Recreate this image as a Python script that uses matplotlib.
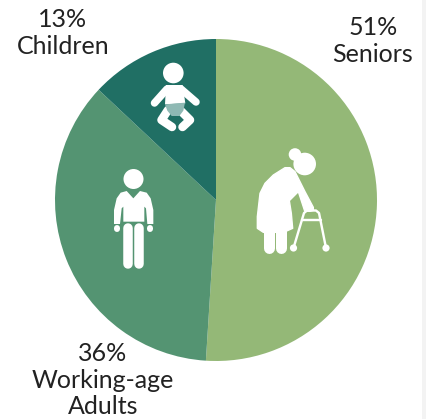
import matplotlib
matplotlib.use('Agg')
import matplotlib.pyplot as plt
from matplotlib.patches import Circle, Polygon, Rectangle

W, H = 427, 419

# Population shares
categories = ['Seniors', 'Working-age\nAdults', 'Children']
shares = [51, 36, 13]
colors = ['#94b877', '#549472', '#206f64']
label_pos = [(373, 41), (103, 380), (63, 33)]

plt.rcParams['font.family'] = ['Lato', 'DejaVu Sans']

fig = plt.figure(figsize=(W / 100, H / 100), dpi=100)
ax = fig.add_axes([0, 0, 1, 1])

# Pie, clockwise from the top
ax.pie(shares, colors=colors, startangle=90, counterclock=False,
       center=(216, H - 200), radius=161, frame=True)
ax.set_xlim(0, W)
ax.set_ylim(0, H)
ax.set_aspect('equal')
ax.axis('off')

# Grey strip at the right edge
ax.add_patch(Rectangle((422, 0), 5, H, color='#f3f3f3', lw=0))

# Labels
for cat, val, pos in zip(categories, shares, label_pos):
    ax.text(pos[0], H - pos[1], f'{val}%\n{cat}', ha='center', va='center',
            fontsize=18, color='#222222', linespacing=1.2, multialignment='center')


# Helpers for the icons, which are laid out with y pointing down
def circle(cx, cy, r, color='white'):
    ax.add_patch(Circle((cx, H - cy), r, color=color, lw=0, zorder=5))


def poly(points, color='white', edge=0):
    pts = [(x, H - y) for x, y in points]
    ax.add_patch(Polygon(pts, closed=True, facecolor=color, edgecolor=color, lw=edge,
                         joinstyle='round', zorder=5))


def stroke(xs, ys, width, color='white'):
    ax.plot(xs, [H - y for y in ys], color=color, lw=width * 0.72,
            solid_capstyle='round', solid_joinstyle='round', zorder=5)


def zoomed(points, x0, y0):
    return [(x0 + x / 3, y0 + y / 3) for x, y in points]


# Senior with walker
x0, y0 = 230, 130
circle(295, 154.5, 6.3)
circle(304.7, 164, 11.3)
poly(zoomed([(165, 113), (180, 113), (195, 125), (205, 145), (225, 185), (250, 232),
             (250, 241), (240, 244), (224, 243), (205, 185), (178, 212), (184, 250),
             (188, 295), (170, 303), (150, 307), (100, 307), (82, 295), (82, 260),
             (90, 190), (105, 160), (130, 135)], x0, y0), edge=1)
stroke([269, 269], [228, 248], 11)
stroke([281, 281], [228, 248], 11)
stroke([293.5, 304, 307, 316, 319, 326],
       [248, 213, 210.5, 210.5, 213, 248], 2.4)
stroke([302, 321], [220, 220], 2.4)
circle(293.5, 248, 3.6)
circle(326, 248, 3.6)

# Adult
x0, y0 = 90, 50
circle(133.5, 179, 10)
poly(zoomed([(110, 423), (130, 445), (150, 423), (170, 428), (182, 445), (190, 480),
             (190, 522), (172, 522), (168, 475), (163, 470), (163, 515), (100, 515),
             (100, 470), (95, 475), (90, 522), (72, 522), (72, 480), (80, 445),
             (92, 428)], x0, y0))
stroke([117, 117], [228.5, 229.5], 6)
stroke([150, 150], [228.5, 229.5], 6)
stroke([128, 128], [228, 264], 9.5)
stroke([139.5, 139.5], [228, 264], 9.5)

# Baby
x0, y0 = 90, 50
circle(173.3, 73, 10.3)
poly(zoomed([(228, 105), (278, 105), (286, 160), (225, 163)], x0, y0))
stroke([167, 154.5], [89, 103], 7.5)
stroke([181, 196], [89, 102], 7.5)
stroke([168, 161.5, 172], [110, 120, 127], 8.5)
stroke([180, 190, 182.5], [110, 120, 127], 8.5)
poly(zoomed([(225, 163), (285, 158), (280, 182), (268, 198), (245, 198), (232, 182)], x0, y0),
     color='#8fb9b4')

fig.savefig('out.png', dpi=100, facecolor='white')
